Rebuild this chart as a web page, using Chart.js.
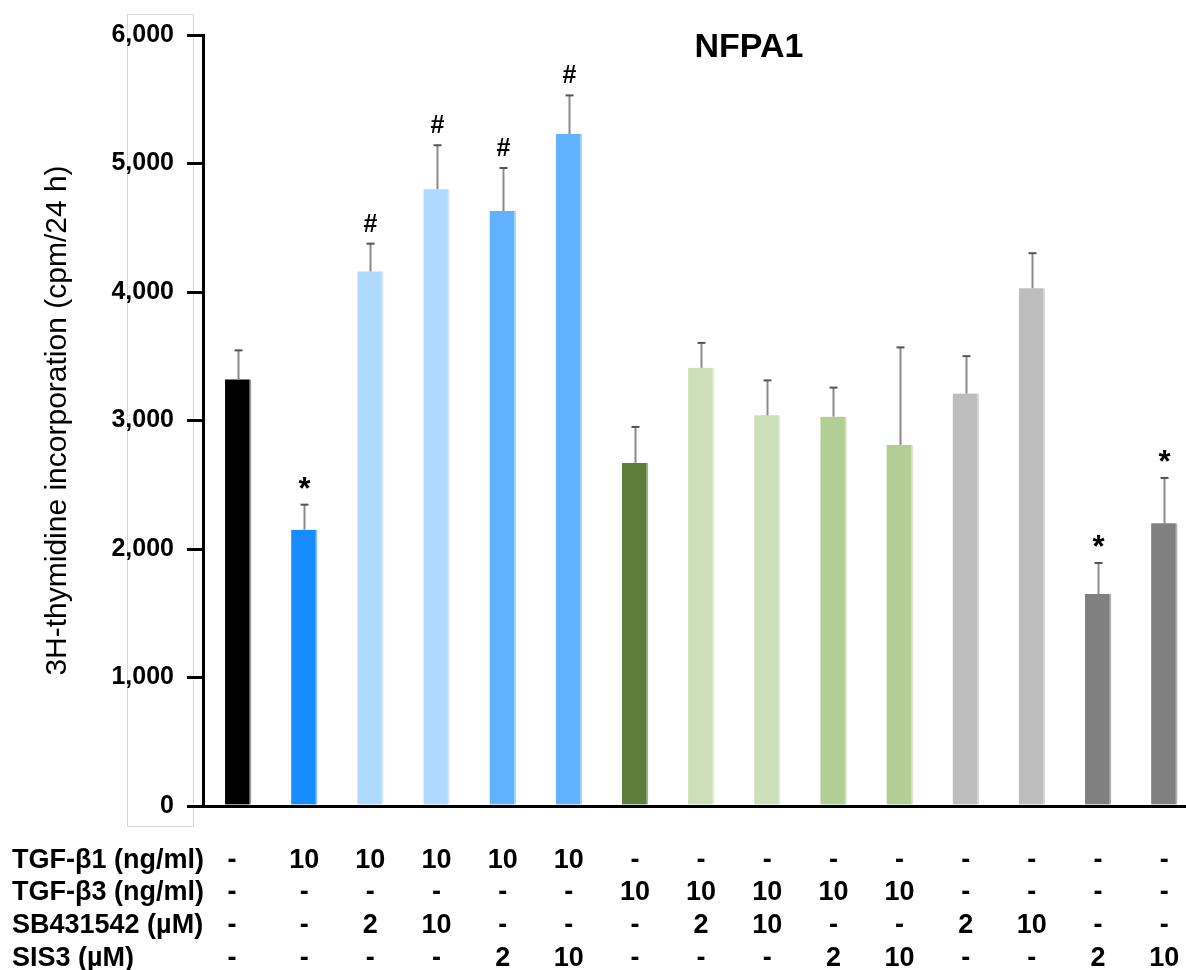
<!DOCTYPE html>
<html>
<head>
<meta charset="utf-8">
<script src="https://cdn.jsdelivr.net/npm/chart.js@4.4.1/dist/chart.umd.min.js"></script>
<style>
  html, body { margin: 0; padding: 0; background: #ffffff; }
  #wrap { width: 1186px; height: 970px; position: relative; }
</style>
</head>
<body>
<div id="wrap"><canvas id="c" width="1186" height="970"></canvas></div>
<script>
// ---- data ----
const means = [3320, 2150, 4160, 4800, 4630, 5230, 2670, 3410, 3040, 3030, 2810, 3210, 4030, 1650, 2200];
const sems  = [226, 195, 216, 342, 335, 300, 280, 194, 272, 226, 759, 291, 272, 241, 353];
const marks = ['', '*', '#', '#', '#', '#', '', '', '', '', '', '', '', '*', '*'];
const barColors = ['#000000', '#168cff', '#b0d9ff', '#b0d9ff', '#62b3ff', '#62b3ff',
                   '#5e7d3a', '#cddfb8', '#cddfb8', '#b2ce94', '#b2ce94',
                   '#bdbdbd', '#bdbdbd', '#808080', '#808080'];
const edgeColors = ['#9a9a9a', '#8cc4ff', '#d6ebff', '#d6ebff', '#a8d4ff', '#a8d4ff',
                    '#9db48a', '#e3eed8', '#e3eed8', '#d0e2bc', '#d0e2bc',
                    '#d8d8d8', '#d8d8d8', '#b0b0b0', '#b0b0b0'];
const rowLabels = ['TGF-\u03B21 (ng/ml)', 'TGF-\u03B23 (ng/ml)', 'SB431542 (\u00B5M)', 'SIS3 (\u00B5M)'];
const tgfb1 = ['-', '10', '10', '10', '10', '10', '-', '-', '-', '-', '-', '-', '-', '-', '-'];
const tgfb3 = ['-', '-', '-', '-', '-', '-', '10', '10', '10', '10', '10', '-', '-', '-', '-'];
const sb431542 = ['-', '-', '2', '10', '-', '-', '-', '2', '10', '-', '-', '2', '10', '-', '-'];
const sis3 = ['-', '-', '-', '-', '2', '10', '-', '-', '-', '2', '10', '-', '-', '2', '10'];
const yTicks = [0, 1000, 2000, 3000, 4000, 5000, 6000];
const chartTitle = 'NFPA1';
const yTitle = '3H-thymidine incorporation (cpm/24 h)';

const FONT = "Arial, 'Liberation Sans', sans-serif";
const tableRows = [tgfb1, tgfb3, sb431542, sis3];

const overlay = {
  id: 'overlay',
  beforeDraw(chart) {
    const ctx = chart.ctx;
    ctx.save();
    ctx.strokeStyle = '#d4d4d4';
    ctx.lineWidth = 1;
    ctx.strokeRect(127.5, 14.5, 66, 812);
    ctx.restore();
  },
  afterDatasetsDraw(chart) {
    const ctx = chart.ctx;
    const xs = chart.scales.x, ys = chart.scales.y;
    ctx.save();
    means.forEach((m, i) => {
      const x = Math.round(xs.getPixelForValue(i)) + 0.5;
      const yTop = ys.getPixelForValue(m);
      const yErr = ys.getPixelForValue(m + sems[i]);
      ctx.strokeStyle = '#8a8a8a';
      ctx.lineWidth = 2;
      ctx.beginPath();
      ctx.moveTo(x, yTop);
      ctx.lineTo(x, yErr);
      ctx.stroke();
      ctx.strokeStyle = '#555555';
      ctx.beginPath();
      ctx.moveTo(x - 4, yErr);
      ctx.lineTo(x + 4, yErr);
      ctx.stroke();
      if (marks[i]) {
        ctx.fillStyle = '#000';
        ctx.textAlign = 'center';
        ctx.textBaseline = 'alphabetic';
        if (marks[i] === '#') {
          ctx.font = 'bold 25px ' + FONT;
          ctx.fillText('#', x, yErr - 12);
        } else {
          ctx.font = 'bold 31px ' + FONT;
          ctx.fillText('*', x, yErr - 6);
        }
      }
    });
    ctx.restore();
  },
  afterDraw(chart) {
    const ctx = chart.ctx;
    const xs = chart.scales.x;
    ctx.save();
    ctx.fillStyle = '#000';
    ctx.font = 'bold 34px ' + FONT;
    ctx.textAlign = 'center';
    ctx.textBaseline = 'alphabetic';
    ctx.fillText(chartTitle, 749, 57);

    const baselines = [868, 900, 933, 966];
    ctx.font = 'bold 27px ' + FONT;
    rowLabels.forEach((lab, r) => {
      ctx.textAlign = 'left';
      ctx.fillText(lab, 12, baselines[r]);
      ctx.textAlign = 'center';
      tableRows[r].forEach((v, i) => {
        const x = xs.getPixelForValue(i) - (i === 0 ? 6 : 0);
        ctx.fillText(v, x, baselines[r]);
      });
    });
    ctx.restore();
  }
};

const ctx = document.getElementById('c').getContext('2d');
new Chart(ctx, {
  type: 'bar',
  data: {
    datasets: [{
      data: means.map((m, i) => ({ x: i, y: m })),
      backgroundColor: barColors,
      borderColor: edgeColors,
      borderWidth: { left: 0, top: 0, bottom: 0, right: 2 },
      borderSkipped: false,
      barThickness: 26
    }]
  },
  options: {
    responsive: false,
    animation: false,
    layout: { padding: { top: 35, right: 0, left: 0, bottom: 0 } },
    plugins: { legend: { display: false }, tooltip: { enabled: false }, title: { display: false } },
    scales: {
      x: {
        type: 'linear',
        min: -0.53,
        max: 14.33,
        offset: false,
        grid: { display: false, drawTicks: false },
        border: { display: true, color: '#000', width: 3 },
        ticks: { display: false },
        afterFit(scale) { scale.height = 164; }
      },
      y: {
        min: 0,
        max: 6000,
        afterBuildTicks(scale) { scale.ticks = yTicks.map(v => ({ value: v })); },
        ticks: {
          color: '#000',
          font: { family: FONT, size: 25, weight: 'bold' },
          padding: 13,
          callback: (v) => v.toLocaleString('en-US')
        },
        grid: {
          display: true,
          drawOnChartArea: false,
          drawTicks: true,
          tickLength: 16,
          tickColor: '#000',
          tickWidth: 3,
          lineWidth: 3,
          color: '#000'
        },
        border: { display: true, color: '#000', width: 3 },
        title: {
          display: true,
          text: yTitle,
          color: '#000',
          font: { family: FONT, size: 30, weight: 'normal' },
          padding: { top: 40, bottom: 0 }
        },
        afterFit(scale) { scale.width = 203; }
      }
    }
  },
  plugins: [overlay]
});
</script>
</body>
</html>
